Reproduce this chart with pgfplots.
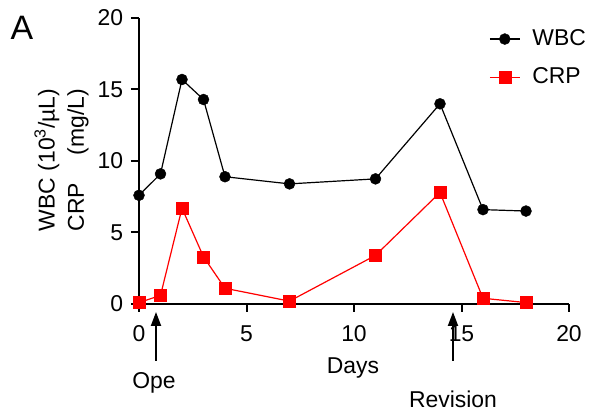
\documentclass[border=0pt]{standalone}
\usepackage{pgfplots}
\pgfplotsset{compat=1.18}
\usepackage{fontspec}
\setmainfont{Liberation Sans}
\usetikzlibrary{arrows.meta}
\newlength\wlen
\begin{document}
\fontsize{23}{27}\selectfont
\begin{tikzpicture}
\begin{axis}[
  at={(0,0)}, anchor=south west,
  scale only axis, width=430bp, height=286bp,
  xmin=0, xmax=20, ymin=0, ymax=20,
  axis x line*=bottom, axis y line*=left,
  xtick={0,5,10,15,20}, ytick={0,5,10,15,20},
  tick align=outside, major tick length=8bp,
  axis line style={line width=2bp, black},
  tick style={line width=2bp, black},
  clip=false,
  /pgf/number format/assume math mode=true,
  ticklabel style={font=\fontsize{23}{27}\selectfont},
  xticklabel style={yshift=-6bp},
  legend style={draw=none, fill=none, at={(axis description cs:0.807,0.975)}, anchor=north west,
    font=\fontsize{23}{27}\selectfont, row sep=15bp},
  legend cell align=left,
  legend image code/.code={\draw[mark repeat=2,mark phase=2] plot coordinates {(0bp,0bp)(15bp,0bp)(30bp,0bp)}; \path (40bp,0bp);},
]
\addplot[black, line width=1.2bp, mark=*, mark size=5.5bp, mark options={solid, line width=0.4bp}]
  coordinates {(0,7.6) (1,9.1) (2,15.7) (3,14.3) (4,8.9) (7,8.4) (11,8.75) (14,14.0) (16,6.6) (18,6.5)};
\addlegendentry{WBC}
\addplot[red, line width=1.2bp, mark=square*, mark size=6bp, mark options={solid, line width=0.4bp}]
  coordinates {(0,0.1) (1,0.6) (2,6.7) (3,3.3) (4,1.1) (7,0.2) (11,3.4) (14,7.8) (16,0.4) (18,0.1)};
\addlegendentry{CRP}
\end{axis}
\draw[line width=2bp, -{Triangle[length=14bp,width=10bp]}] (17bp,-57bp) -- (17bp,-8bp);
\draw[line width=2bp, -{Triangle[length=14bp,width=10bp]}] (314bp,-57bp) -- (314bp,-8bp);
\node at (15bp,-79bp) {Ope};
\node at (214bp,-64bp) {Days};
\node at (314bp,-95bp) {Revision};
\node at (-117bp,276bp) {\fontsize{34}{40}\selectfont A};
\node[rotate=90] at (-92bp,144bp) {WBC (10\textsuperscript{3}/µL)};
\node[rotate=90] at (-61bp,144bp) {\settowidth{\wlen}{WBC (10\textsuperscript{3}/µL)}\makebox[\wlen]{CRP\hfill(mg/L)}};
\path[use as bounding box] (-139bp,-109bp) rectangle (455bp,304bp);
\end{tikzpicture}
\end{document}
